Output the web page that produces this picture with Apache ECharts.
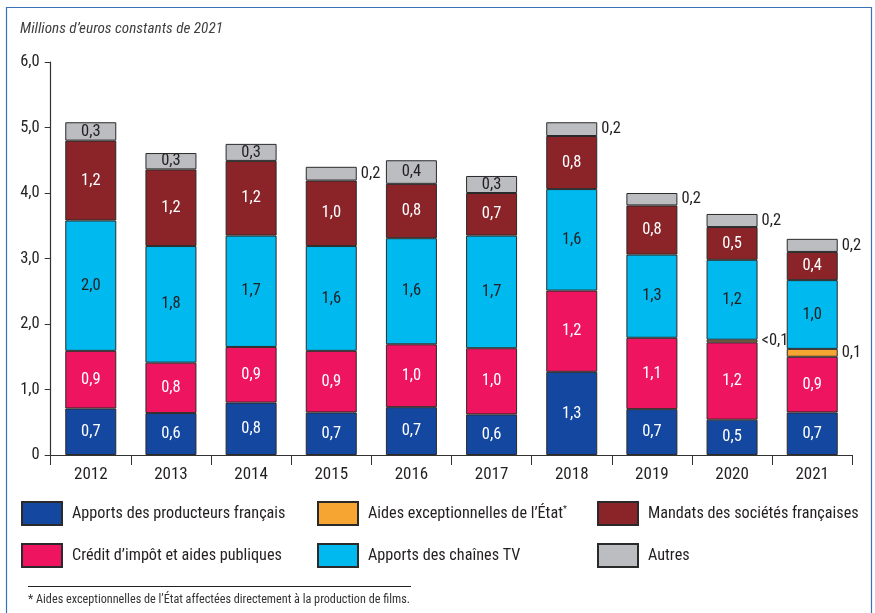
<!DOCTYPE html>
<html>
<head>
<meta charset="utf-8">
<script src="https://cdn.jsdelivr.net/npm/echarts@6/dist/echarts.min.js"></script>
<style>
html,body{margin:0;padding:0;background:#fff;}
#chart{width:875px;height:613px;}
</style>
</head>
<body>
<div id="chart"></div>
<script>
// ---- data ----
const years = ['2012','2013','2014','2015','2016','2017','2018','2019','2020','2021'];
const yTickLabels = ['0','1,0','2,0','3,0','4,0','5,0','6,0'];

const producteurs = [0.71, 0.64, 0.80, 0.65, 0.73, 0.62, 1.27, 0.70, 0.54, 0.65];
const creditImpot = [0.88, 0.77, 0.85, 0.94, 0.96, 1.01, 1.24, 1.09, 1.18, 0.85];
const aidesEtat   = [null, null, null, null, null, null, null, null, 0.04, 0.12];
const chainesTV   = [1.99, 1.78, 1.70, 1.60, 1.62, 1.72, 1.55, 1.27, 1.22, 1.05];
const mandats     = [1.22, 1.17, 1.14, 1.00, 0.83, 0.65, 0.81, 0.75, 0.50, 0.43];
const autres      = [0.28, 0.25, 0.26, 0.21, 0.36, 0.26, 0.21, 0.19, 0.20, 0.20];

const producteursLabels = ['0,7','0,6','0,8','0,7','0,7','0,6','1,3','0,7','0,5','0,7'];
const creditImpotLabels = ['0,9','0,8','0,9','0,9','1,0','1,0','1,2','1,1','1,2','0,9'];
const aidesEtatLabels   = ['','','','','','','','','<0,1','0,1'];
const chainesTVLabels   = ['2,0','1,8','1,7','1,6','1,6','1,7','1,6','1,3','1,2','1,0'];
const mandatsLabels     = ['1,2','1,2','1,2','1,0','0,8','0,7','0,8','0,8','0,5','0,4'];
const autresLabels      = ['0,3','0,3','0,3','0,2','0,4','0,3','0,2','0,2','0,2','0,2'];

const seriesNames = [
  'Apports des producteurs français',
  'Crédit d’impôt et aides publiques',
  'Aides exceptionnelles de l’État',
  'Apports des chaînes TV',
  'Mandats des sociétés françaises',
  'Autres'
];
const titleText = 'Millions d’euros constants de 2021';
const footnoteText = '* Aides exceptionnelles de l’État affectées directement à la production de films.';

// ---- styling ----
const FONT = "'Roboto Condensed','DejaVu Sans Condensed',sans-serif";
const TXT = '#231f20';
const colors = ['#1448a0','#ee1460','#f7a532','#00b9ef','#8a2428','#bcbdc0'];
const labelColors = ['#ffffff','#ffffff',TXT,TXT,'#ffffff',TXT];
const values = [producteurs, creditImpot, aidesEtat, chainesTV, mandats, autres];
const labels = [producteursLabels, creditImpotLabels, aidesEtatLabels, chainesTVLabels, mandatsLabels, autresLabels];

function buildData(si){
  return values[si].map(function(v, i){
    if (v === null) return '-';
    let outside = false;
    if (si === 2) outside = true;
    if (si === 5 && v < 0.23) outside = true;
    const item = { value: v };
    item.label = outside
      ? { position: 'right', distance: 4, color: TXT, formatter: labels[si][i] }
      : { position: 'inside', color: labelColors[si], formatter: labels[si][i] };
    return item;
  });
}

const series = seriesNames.map(function(name, si){
  return {
    name: name,
    type: 'bar',
    stack: 'total',
    barWidth: 51,
    data: buildData(si),
    itemStyle: { color: colors[si], borderColor: '#2a2a2a', borderWidth: 1 },
    label: { show: true, fontFamily: FONT, fontSize: 16.5 },
    emphasis: { disabled: true },
    animation: false
  };
});

const chart = echarts.init(document.getElementById('chart'));
const legendCommon = {
  orient: 'vertical',
  top: 501,
  padding: 0,
  itemWidth: 40,
  itemHeight: 23,
  itemGap: 17,
  icon: 'rect',
  selectedMode: false,
  textStyle: {
    fontFamily: FONT, fontSize: 16.2, color: TXT, padding: [0,0,0,5],
    rich: {
      a: { fontFamily: FONT, fontSize: 16.2, color: TXT },
      s: { fontFamily: FONT, fontSize: 9, color: TXT, verticalAlign: 'top', padding: [0,0,8,0] }
    }
  },
  formatter: function(n){ return n === seriesNames[2] ? '{a|' + n + '}{s|*}' : n; }
};

chart.setOption({
  animation: false,
  grid: { left: 50.7, right: 22.7, top: 62, bottom: 158 },
  legend: [
    Object.assign({}, legendCommon, { left: 21, data: [seriesNames[0], seriesNames[1]] }),
    Object.assign({}, legendCommon, { left: 317, data: [seriesNames[2], seriesNames[3]] }),
    Object.assign({}, legendCommon, { left: 597, data: [seriesNames[4], seriesNames[5]] })
  ],
  xAxis: {
    type: 'category',
    data: years,
    axisLine: { lineStyle: { color: '#333', width: 1.2 } },
    axisTick: { show: true, length: 10, lineStyle: { color: '#333' } },
    axisLabel: { fontFamily: FONT, fontSize: 17, color: TXT, margin: 11 }
  },
  yAxis: {
    type: 'value',
    min: 0, max: 6, interval: 1,
    axisLine: { show: true, lineStyle: { color: '#333', width: 1.2 } },
    axisTick: { show: true, length: 6, lineStyle: { color: '#333' } },
    splitLine: { show: false },
    axisLabel: {
      fontFamily: FONT, fontSize: 16.5, color: TXT, margin: 11,
      formatter: function(v){ return yTickLabels[Math.round(v)]; }
    }
  },
  series: series,
  graphic: [
    { type: 'rect', shape: { x: 6.5, y: 7.5, width: 865, height: 640 }, style: { fill: 'none', stroke: '#3a72b8', lineWidth: 1.2 }, silent: true },
    { type: 'text', left: 20, top: 22, style: { text: titleText, fontFamily: FONT, fontSize: 15.2, fontStyle: 'italic', fill: '#404040' } },
    { type: 'line', shape: { x1: 28, y1: 586.5, x2: 411, y2: 586.5 }, style: { stroke: '#222', lineWidth: 1 } },
    { type: 'text', left: 28, top: 594, style: { text: footnoteText, fontFamily: FONT, fontSize: 12.2, fill: '#333' } }
  ]
});
</script>
</body>
</html>
